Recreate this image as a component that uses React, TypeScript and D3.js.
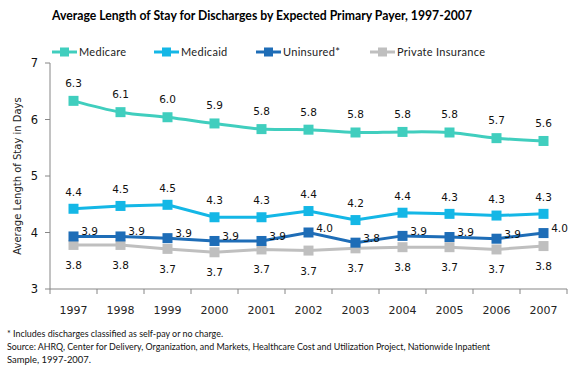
import React, { useEffect, useRef } from "react";
import * as d3 from "d3";

const years = ["1997", "1998", "1999", "2000", "2001", "2002", "2003", "2004", "2005", "2006", "2007"];
const medicare = [6.33, 6.13, 6.04, 5.93, 5.83, 5.82, 5.77, 5.78, 5.77, 5.67, 5.62];
const medicaid = [4.42, 4.47, 4.49, 4.27, 4.27, 4.38, 4.22, 4.35, 4.33, 4.3, 4.33];
const uninsured = [3.93, 3.93, 3.9, 3.85, 3.85, 4.0, 3.82, 3.94, 3.92, 3.89, 3.99];
const privateIns = [3.78, 3.78, 3.71, 3.65, 3.7, 3.68, 3.72, 3.74, 3.74, 3.7, 3.76];

const medicareLabels = ["6.3", "6.1", "6.0", "5.9", "5.8", "5.8", "5.8", "5.8", "5.8", "5.7", "5.6"];
const medicaidLabels = ["4.4", "4.5", "4.5", "4.3", "4.3", "4.4", "4.2", "4.4", "4.3", "4.3", "4.3"];
const uninsuredLabels = ["3.9", "3.9", "3.9", "3.9", "3.9", "4.0", "3.8", "3.9", "3.9", "3.9", "4.0"];
const privateLabels = ["3.8", "3.8", "3.7", "3.7", "3.7", "3.7", "3.7", "3.8", "3.7", "3.7", "3.8"];

const yTicks = [3, 4, 5, 6, 7];

const series = [
  { name: "Medicare", values: medicare, labels: medicareLabels, color: "#40CEBE", smooth: true, dx: 0, dy: -14 },
  { name: "Medicaid", values: medicaid, labels: medicaidLabels, color: "#14B7E6", smooth: false, dx: 0, dy: -13 },
  { name: "Uninsured*", values: uninsured, labels: uninsuredLabels, color: "#1E6DB7", smooth: false, dx: 16, dy: -1 },
  { name: "Private Insurance", values: privateIns, labels: privateLabels, color: "#BFBFBF", smooth: false, dx: 0, dy: 24 },
];

const legendX = [52, 154, 256, 370];

function App() {
  const svgRef = useRef<SVGSVGElement>(null);

  useEffect(() => {
    const svg = d3.select(svgRef.current);
    svg.selectAll("*").remove();

    const left = 50, right = 567, top = 63, bottom = 289;
    const x = d3.scaleBand().domain(years).range([left, right]);
    const y = d3.scaleLinear().domain([3, 7]).range([bottom, top]);
    const cx = (i: number) => (x(years[i]) as number) + x.bandwidth() / 2;

    // title
    svg.append("text")
      .attr("x", 52).attr("y", 20)
      .attr("textLength", 420).attr("lengthAdjust", "spacingAndGlyphs")
      .style("font-family", "Lato, sans-serif")
      .style("font-weight", "bold")
      .style("font-size", "12.5px")
      .attr("fill", "#000")
      .text("Average Length of Stay for Discharges by Expected Primary Payer, 1997-2007");

    // legend
    const lg = svg.append("g").selectAll("g").data(series).join("g")
      .attr("transform", (d, i) => `translate(${legendX[i]},52)`);
    lg.append("line").attr("x1", 0).attr("x2", 25).attr("y1", 0).attr("y2", 0)
      .attr("stroke", d => d.color).attr("stroke-width", 3);
    lg.append("rect").attr("x", 8).attr("y", -4.5).attr("width", 9).attr("height", 9)
      .attr("fill", d => d.color);
    lg.append("text").attr("x", 27).attr("y", 4)
      .style("font-family", "Lato, sans-serif").style("font-size", "11px")
      .style("letter-spacing", "0.3px")
      .attr("fill", "#222")
      .text(d => d.name);

    // axes
    const axisColor = "#868686";
    svg.append("line").attr("x1", left).attr("x2", left).attr("y1", top).attr("y2", bottom)
      .attr("stroke", axisColor);
    svg.append("line").attr("x1", left).attr("x2", right).attr("y1", bottom).attr("y2", bottom)
      .attr("stroke", axisColor);
    svg.selectAll(".ytick").data(yTicks).join("line")
      .attr("x1", left - 5).attr("x2", left).attr("y1", d => y(d)).attr("y2", d => y(d))
      .attr("stroke", axisColor);
    svg.selectAll(".ylab").data(yTicks).join("text")
      .attr("x", 38).attr("y", d => y(d) + 4)
      .attr("text-anchor", "end")
      .style("font-family", "DejaVu Sans, sans-serif").style("font-size", "11.5px")
      .attr("fill", "#111")
      .text(d => d);
    const bounds = years.map(yr => x(yr) as number).concat([right]);
    svg.selectAll(".xtick").data(bounds).join("line")
      .attr("x1", d => d).attr("x2", d => d).attr("y1", bottom).attr("y2", bottom + 5)
      .attr("stroke", axisColor);
    svg.selectAll(".xlab").data(years).join("text")
      .attr("x", (d, i) => cx(i)).attr("y", 314)
      .attr("text-anchor", "middle")
      .style("font-family", "DejaVu Sans, sans-serif").style("font-size", "11px")
      .attr("fill", "#222")
      .text(d => d);

    svg.append("text")
      .attr("transform", `translate(21,${(top + bottom) / 2}) rotate(-90)`)
      .attr("text-anchor", "middle")
      .style("font-family", "DejaVu Sans, sans-serif").style("font-size", "10px")
      .attr("fill", "#222")
      .text("Average Length of Stay in Days");

    // series: draw bottom ones first so upper series overlap
    const order = [3, 2, 1, 0];
    order.forEach(si => {
      const s = series[si];
      const line = d3.line<number>()
        .x((d, i) => cx(i))
        .y(d => y(d))
        .curve(s.smooth ? d3.curveCatmullRom.alpha(0.5) : d3.curveLinear);
      const g = svg.append("g");
      g.append("path").attr("d", line(s.values))
        .attr("fill", "none").attr("stroke", s.color).attr("stroke-width", 3);
      g.selectAll("rect").data(s.values).join("rect")
        .attr("x", (d, i) => cx(i) - 5).attr("y", d => y(d) - 5)
        .attr("width", 10).attr("height", 10)
        .attr("fill", s.color);
    });

    order.forEach(si => {
      const s = series[si];
      svg.append("g").selectAll("text").data(s.values).join("text")
        .attr("x", (d, i) => cx(i) + s.dx)
        .attr("y", d => y(d) + s.dy)
        .attr("text-anchor", "middle")
        .style("font-family", "DejaVu Sans, sans-serif").style("font-size", "10.5px")
        .attr("fill", "#111")
        .text((d, i) => s.labels[i]);
    });

    // footnotes
    const notes = [
      { text: "* Includes discharges classified as self-pay or no charge.", y: 337, len: 216 },
      { text: "Source: AHRQ, Center for Delivery, Organization, and Markets, Healthcare Cost and Utilization Project, Nationwide Inpatient", y: 350, len: 483 },
      { text: "Sample, 1997-2007.", y: 363, len: 84 },
    ];
    svg.selectAll(".note").data(notes).join("text")
      .attr("x", 7).attr("y", d => d.y)
      .attr("textLength", d => d.len).attr("lengthAdjust", "spacingAndGlyphs")
      .style("font-family", "Lato, sans-serif").style("font-size", "10px")
      .attr("fill", "#111")
      .text(d => d.text);
  }, []);

  return (
    <svg ref={svgRef} width={576} height={367}
      style={{ position: "absolute", left: 0, top: 0, background: "#fff" }} />
  );
}

export default App;
